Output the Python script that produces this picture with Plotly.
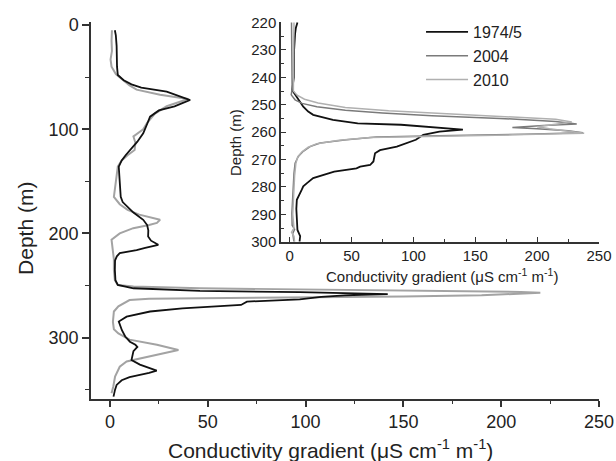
import plotly.graph_objects as go

# ---------------- main panel data ----------------
main_depth_1974 = [5, 10, 20, 30, 40, 48, 53, 57, 60, 64, 68, 72, 75, 78, 82, 88, 95, 104, 112, 120,
                   125, 130, 136, 145, 155, 165, 170, 175, 180, 187, 192, 197, 203, 207, 211, 214, 216,
                   219, 222, 226, 235, 245, 249.5, 252.7, 255.3, 256.5, 257.5, 258.3, 259.5, 261, 263.3,
                   265.5, 268.7, 270.5, 272, 275, 280, 284.7, 290, 293, 299, 304, 307, 309, 313, 318,
                   321.5, 326, 329, 331.7, 334, 336, 338, 341, 345.5, 350, 356.7]
main_grad_1974 = [2.5, 3, 3.4, 3.4, 3.6, 4, 7, 11, 16, 29, 35, 41, 37, 33, 25, 20.5, 19, 17, 14, 10.2,
                  8, 6, 4.5, 4.8, 5, 5.5, 6.5, 9, 12, 17, 19, 19.6, 19.5, 21, 24.7, 18, 13.6,
                  5, 3.5, 2.6, 2.5, 2.8, 4, 12, 46, 97, 125, 142, 120, 108, 97,
                  70, 67, 50, 37, 20.5, 8.5, 4.5, 5.5, 6.1, 7.8, 10.2, 13, 14, 12, 11.5,
                  11, 15.3, 20, 23.9, 20, 15, 10, 6, 3.4, 2.6, 1.8]

main_depth_2010 = [5, 15, 25, 33, 40, 47, 53, 58, 62, 67, 71, 74, 78, 85, 94, 100, 107, 113, 120, 125,
                   130, 136, 145, 155, 165, 172, 177.5, 182, 187, 190, 192, 195, 200, 206, 215, 225,
                   235, 245, 249.5, 251, 252.7, 253.7, 255, 256.2, 257, 258, 259.5, 260.5, 261.3, 262,
                   262.8, 264, 265.5, 270, 275, 285, 292, 296, 302, 307, 312, 315, 318, 323, 328,
                   337.5, 347, 353.5]
main_grad_2010 = [1, 0.8, 1, 0.3, 0.8, 3, 6.8, 10, 13.6, 25.6, 40, 35, 29, 23, 19, 17, 12, 13, 12.6, 9,
                  6, 4, 3.4, 3, 2, 5, 9, 15, 25.6, 24, 20, 11.9, 5, 0.8, 1.5, 2,
                  2, 2.5, 4, 12, 46, 97, 160, 210, 220, 205, 190, 150, 97, 50,
                  20, 10, 8.5, 4.3, 2, 1.5, 2, 4.3, 10, 24, 35, 28, 20, 8.5, 5,
                  2.6, 1.7, 0.8]

# ---------------- inset data ----------------
inset_depth_1974 = [220, 222, 224, 230, 240, 244.6, 246, 248.2, 250.7, 252.5, 253.7, 255.5, 256.8, 257.3,
                    257.8, 258.5, 259.1, 259.8, 261, 262.8, 264, 265.3, 266.6, 267.7, 270.7, 272, 272.6,
                    273.2, 274.4, 276.2, 276.8, 278.6, 279.8, 281, 282.3, 283.5, 284.7, 288, 292, 295.7,
                    298, 300]
inset_grad_1974 = [6.3, 5, 4.4, 3.6, 3.4, 2, 4, 7, 11, 15, 19, 35, 55, 90,
                   105, 120, 140, 121, 108, 102, 95, 86.6, 73, 69, 67.7, 65, 57,
                   54, 36, 22, 19, 14, 11, 9.8, 8.5, 7, 5.8, 5.4, 5.6, 6.3,
                   8.5, 8]

inset_depth_2004 = [220, 230, 240, 244, 246.4, 248.2, 249.5, 250.7, 252, 253, 254, 255, 256.1, 257,
                    257.6, 258.3, 258.8, 259.5, 260.2, 260.8, 261.3, 261.8, 262.8, 264, 265.3, 267,
                    268.9, 271.3, 275, 279.8, 285, 289.6, 294, 295.5, 297, 300]
inset_grad_2004 = [1.5, 1.8, 2, 2, 1.3, 4.4, 10, 22, 45, 75, 115, 170, 215, 232,
                   205, 180, 200, 225, 237, 190, 120, 70, 46, 24.6, 16.5, 11,
                   7, 4.4, 3.5, 3, 2.5, 1.8, 2, 4, 2.5, 3.5]

inset_depth_2010 = [220, 230, 240, 245, 246.5, 248, 249.4, 251, 252.2, 253.3, 254.3, 255.3, 256.3, 257.2,
                    258, 258.8, 259.7, 260.4, 261, 261.5, 262, 263, 264.2, 265.5, 267.2, 269, 271.5,
                    276, 280, 285, 290, 295, 296.5, 298, 300]
inset_grad_2010 = [3.5, 3.2, 3, 3, 6, 12, 23, 45, 80, 130, 180, 215, 228, 215,
                   200, 210, 228, 238, 180, 110, 65, 40, 22, 15, 10, 6.5, 5,
                   4, 3.5, 3, 2.5, 3.5, 1.5, 3.5, 4]

series_names = ["1974/5", "2004", "2010"]
x_ticks = [0, 50, 100, 150, 200, 250]
main_y_ticks = [0, 100, 200, 300]
inset_y_ticks = [220, 230, 240, 250, 260, 270, 280, 290, 300]

FONT = "Arial, Liberation Sans, sans-serif"
C_BLACK = "#111111"
C_2004 = "#7a7a7a"
C_2010 = "#b0b0b0"
AX = "#333333"

fig = go.Figure()

# main panel
fig.add_trace(go.Scatter(x=main_grad_2010, y=main_depth_2010, mode="lines",
                         line=dict(color="#a3a3a3", width=2), showlegend=False,
                         xaxis="x", yaxis="y"))
fig.add_trace(go.Scatter(x=main_grad_1974, y=main_depth_1974, mode="lines",
                         line=dict(color=C_BLACK, width=1.8), showlegend=False,
                         xaxis="x", yaxis="y"))

# inset panel
fig.add_trace(go.Scatter(x=inset_grad_1974, y=inset_depth_1974, mode="lines", name=series_names[0],
                         line=dict(color=C_BLACK, width=1.8), xaxis="x2", yaxis="y2"))
fig.add_trace(go.Scatter(x=inset_grad_2004, y=inset_depth_2004, mode="lines", name=series_names[1],
                         line=dict(color=C_2004, width=1.5), xaxis="x2", yaxis="y2"))
fig.add_trace(go.Scatter(x=inset_grad_2010, y=inset_depth_2010, mode="lines", name=series_names[2],
                         line=dict(color=C_2010, width=1.5), xaxis="x2", yaxis="y2"))

common = dict(showgrid=False, zeroline=False, showline=True, linecolor=AX, linewidth=1.5,
              tickcolor=AX, mirror=False)

fig.update_layout(
    width=616, height=461,
    margin=dict(l=91, r=17, t=22, b=62, autoexpand=False),
    paper_bgcolor="white", plot_bgcolor="white",
    font=dict(family=FONT, color="#222222"),
    xaxis=dict(domain=[0, 1], range=[-9.7, 250], tickvals=x_ticks, ticks="outside", ticklen=6,
               tickwidth=1.5, tickfont=dict(size=18),
               minor=dict(dtick=25, tick0=0, ticks="outside", ticklen=3, tickcolor=AX, tickwidth=1.2),
               anchor="y", **common),
    yaxis=dict(domain=[0, 1], range=[359, -2.9], tickvals=main_y_ticks, ticks="outside", ticklen=7,
               tickwidth=1.5, tickfont=dict(size=18),
               minor=dict(dtick=50, tick0=0, ticks="outside", ticklen=4, tickcolor=AX, tickwidth=1.2),
               anchor="x", **common),
    xaxis2=dict(domain=[0.374, 1], range=[-7, 250], tickvals=x_ticks, ticks="inside", ticklen=5,
                tickwidth=1.2, tickfont=dict(size=15),
                minor=dict(dtick=25, tick0=0, ticks="inside", ticklen=3, tickcolor=AX, tickwidth=1),
                anchor="y2", **common),
    yaxis2=dict(domain=[0.4172, 1], range=[300, 219.8], tickvals=inset_y_ticks, ticks="inside",
                ticklen=5, tickwidth=1.2, tickfont=dict(size=15),
                minor=dict(dtick=5, tick0=0, ticks="inside", ticklen=3, tickcolor=AX, tickwidth=1),
                anchor="x2", **common),
    legend=dict(xref="container", yref="container", x=0.6835, y=0.9675, xanchor="left", yanchor="top",
                bgcolor="rgba(0,0,0,0)", font=dict(size=16, family=FONT), itemwidth=42, tracegroupgap=0),
    annotations=[
        dict(text="Conductivity gradient (μS cm<sup>-1</sup> m<sup>-1</sup>)", xref="paper", yref="paper",
             x=0.4705, y=-0.1326, showarrow=False, font=dict(size=21), xanchor="center", yanchor="middle"),
        dict(text="Depth (m)", xref="paper", yref="paper", x=-0.128, y=0.4536, textangle=-90,
             showarrow=False, font=dict(size=21), xanchor="center", yanchor="middle"),
        dict(text="Conductivity gradient (μS cm<sup>-1</sup> m<sup>-1</sup>)", xref="paper", yref="paper",
             x=0.690, y=0.3289, showarrow=False, font=dict(size=15), xanchor="center", yanchor="middle"),
        dict(text="Depth (m)", xref="paper", yref="paper", x=0.2854, y=0.6817, textangle=-90,
             showarrow=False, font=dict(size=15), xanchor="center", yanchor="middle"),
    ],
)

# remove the page's default 8px body margin so the 616x461 figure fills the window exactly
fig.write_html("out.html", config={"displayModeBar": False},
               post_script="document.body.style.margin='0';document.body.style.overflow='hidden';")
